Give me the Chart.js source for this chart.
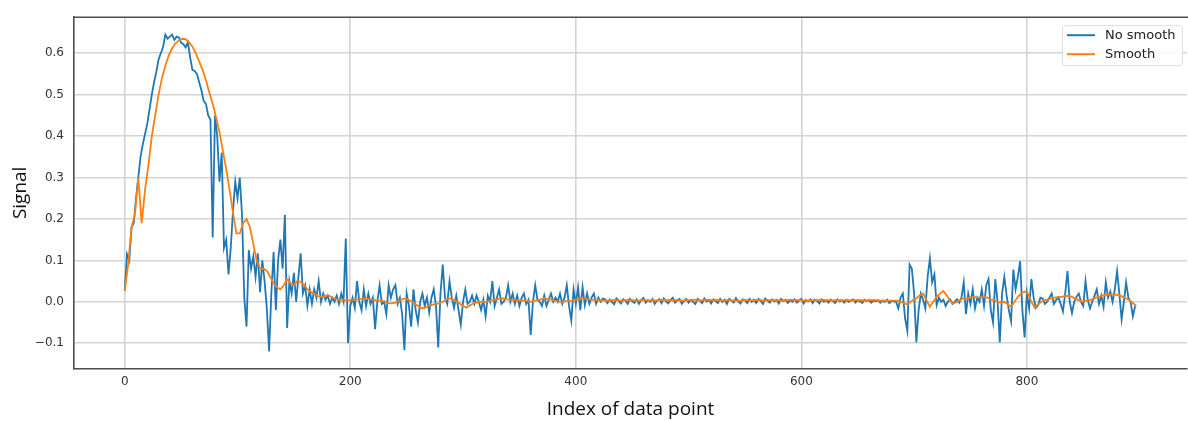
<!DOCTYPE html>
<html>
<head>
<meta charset="utf-8">
<script src="https://cdn.jsdelivr.net/npm/chart.js@4.4.1/dist/chart.umd.min.js"></script>
<style>
  html, body { margin: 0; padding: 0; background: #fff; }
  #wrap { width: 1188px; height: 421px; }
</style>
</head>
<body>
<div id="wrap"><canvas id="signalChart" width="1188" height="421"></canvas></div>
<script>
// raw signal, one sample every 2 indices (0 .. 896)
const RAW_STEP = 2;
const noSmooth = [
  // rise and main peak
  0.027, 0.115, 0.10, 0.18, 0.19, 0.25, 0.30, 0.35, 0.38, 0.405,
  0.43, 0.465, 0.50, 0.53, 0.555, 0.585, 0.60, 0.615, 0.645, 0.635,
  0.64, 0.645, 0.632, 0.64, 0.638, 0.625, 0.622, 0.614, 0.626, 0.59,
  0.56, 0.557, 0.55, 0.53, 0.51, 0.485, 0.478, 0.45,
  // break-up of the peak
  0.44, 0.155, 0.45, 0.40, 0.29, 0.36, 0.13, 0.15, 0.066, 0.13,
  0.22, 0.29, 0.25, 0.30, 0.21, 0.01, -0.06, 0.125, 0.08, 0.11,
  0.06, 0.117, 0.023, 0.1, 0.05, -0.016, -0.12, 0.02,
  0.12, -0.02, 0.1, 0.15, 0.08, 0.21, -0.063, 0.05, 0.02, 0.07,
  0.0, 0.06, 0.117, 0.02, 0.04, -0.01, 0.03, -0.005, 0.03, 0.01,
  0.05, 0.0, 0.02, 0.005, 0.015, -0.005, 0.01, 0.0, 0.015, -0.005,
  0.02, 0.0, 0.153, -0.10, -0.01,
  // noisy baseline 202 .. 424
  0.01, -0.015, 0.05, 0.0, -0.02, 0.03, -0.01, 0.02, -0.005, 0.01,
  -0.066, 0.0, 0.04, -0.005, 0.0, -0.03, 0.04, 0.01, 0.03, 0.04,
  -0.005, 0.01, -0.03, -0.117, 0.02, -0.01, -0.06, 0.03, -0.02, -0.05,
  0.0, 0.02, -0.01, 0.01, -0.026, 0.01, 0.03, -0.01, -0.11, 0.02,
  0.09, 0.01, -0.005, 0.05, 0.01, -0.015, 0.015, -0.02, -0.055, 0.0,
  0.03, -0.005, 0.0, 0.015, -0.005, 0.015, 0.0, -0.02, 0.005, -0.035,
  0.015, 0.0, 0.05, -0.01, 0.01, 0.03, -0.005, 0.0, 0.01, 0.04,
  0.0, 0.02, -0.005, 0.015, -0.01, 0.01, 0.02, -0.005, 0.005, -0.08,
  0.0, 0.04, 0.005, 0.0, -0.01, 0.015, -0.01, 0.005, 0.02, 0.0,
  0.01, 0.0, 0.02, -0.005, 0.01, 0.04, -0.01, -0.045, 0.03, -0.005,
  0.035, -0.02, 0.035, -0.008, 0.02, -0.005, 0.01, 0.02, -0.005, 0.01,
  0.0, 0.008,
  // quiet stretch 426 .. 684
  0.006, -0.003, 0.005, 0.0, -0.006, 0.008, 0.002, -0.004, 0.006, 0.003,
  -0.005, 0.007, 0.001, -0.003, 0.006, -0.005, 0.004, 0.009, -0.002, 0.004,
  0.0, 0.007, -0.005, 0.003, 0.006, -0.003, 0.008, 0.001, -0.004, 0.005,
  0.01, -0.002, 0.004, 0.007, -0.005, 0.002, 0.007, -0.002, 0.005, 0.0,
  -0.005, 0.007, 0.003, -0.003, 0.008, 0.001, 0.005, -0.004, 0.006, 0.002,
  -0.003, 0.007, 0.0, 0.005, -0.005, 0.007, 0.003, -0.002, 0.009, 0.001,
  -0.004, 0.006, 0.004, -0.003, 0.007, 0.0, 0.005, -0.003, 0.007, 0.002,
  -0.005, 0.008, 0.003, -0.002, 0.006, 0.001, 0.005, -0.004, 0.007, 0.002,
  0.005, -0.003, 0.004, 0.0, 0.006, -0.002, 0.003, 0.007, -0.004, 0.004,
  0.001, 0.006, -0.003, 0.005, 0.002, -0.004, 0.006, 0.0, 0.004, -0.002,
  0.005, 0.002, -0.003, 0.006, 0.001, 0.004, -0.002, 0.005, 0.0, 0.003,
  0.006, -0.002, 0.004, 0.001, -0.003, 0.005, 0.002, 0.004, -0.002, 0.003,
  0.001, 0.004, -0.002, 0.003, 0.0, 0.005, -0.003, 0.002, 0.001, 0.0,
  // noisy tail 686 .. 896
  -0.016, 0.01, 0.02, -0.04, -0.07, 0.09, 0.08, 0.02, -0.098, -0.02,
  0.02, 0.005, -0.016, 0.06, 0.105, 0.047, 0.066, -0.008, 0.01, 0.0,
  0.005, -0.01, 0.0, 0.006, -0.005, 0.0, 0.006, -0.002, 0.01, 0.047,
  -0.03, 0.02, -0.005, 0.03, -0.016, 0.01, 0.0, 0.03, -0.01, 0.04,
  0.055, -0.02, -0.05, 0.055, 0.0, -0.098, 0.02, 0.06, 0.016, -0.02,
  -0.047, 0.078, 0.03, 0.06, 0.098, -0.02, -0.086, 0.02, -0.016, 0.055,
  0.01, -0.015, -0.008, 0.01, 0.008, -0.005, 0.0, 0.01, 0.02, -0.005,
  0.005, 0.01, -0.005, -0.023, 0.02, 0.074, 0.0, -0.027, 0.0, 0.012,
  0.02, 0.0, -0.01, 0.05, 0.005, -0.016, 0.0, 0.015, 0.03, -0.005,
  0.015, -0.012, 0.047, 0.01, 0.025, 0.0, 0.03, 0.074, 0.02, -0.043,
  0.0, 0.047, 0.01, 0.0, -0.035, -0.01
];

// smoothed signal, one sample every 3 indices (0 .. 897)
const SMOOTH_STEP = 3;
const smooth = [
  0.027, 0.09, 0.18, 0.21, 0.30, 0.19, 0.27, 0.33, 0.40, 0.45,
  0.50, 0.54, 0.57, 0.595, 0.612, 0.624, 0.631, 0.635, 0.634, 0.627,
  0.616, 0.60, 0.58, 0.56, 0.535, 0.505, 0.478, 0.445, 0.41, 0.365,
  0.32, 0.27, 0.215, 0.165, 0.165, 0.19, 0.20, 0.18, 0.14, 0.10,
  0.08, 0.08, 0.075, 0.06, 0.045, 0.035, 0.03, 0.04, 0.055, 0.045,
  0.04, 0.05, 0.048, 0.04, 0.03, 0.024, 0.02, 0.014, 0.012, 0.014,
  0.016, 0.012, 0.008, 0.005, 0.004, 0.004, 0.003, 0.004, 0.005, 0.006,
  0.007, 0.008, 0.007, 0.005, 0.004, 0.003, 0.002, 0.0, -0.003, -0.004,
  -0.002, 0.002, 0.006, 0.008, 0.004, 0.0, -0.006, -0.012, -0.016, -0.013,
  -0.009, -0.007, -0.005, -0.004, 0.0, 0.005, 0.008, 0.006, 0.002, -0.004,
  -0.01, -0.014, -0.009, -0.004, -0.002, 0.0, 0.0, 0.0, 0.002, 0.004,
  0.006, 0.008, 0.008, 0.006, 0.005, 0.004, 0.004, 0.003, 0.003, 0.002,
  0.0, 0.002, 0.004, 0.006, 0.008, 0.007, 0.005, 0.003, 0.001, 0.0,
  0.001, 0.002, 0.002, 0.004, 0.006, 0.008, 0.008, 0.006, 0.005, 0.004,
  0.004, 0.003,
  0.003, 0.003, 0.004, 0.004, 0.003, 0.003, 0.004, 0.005, 0.004, 0.003,
  0.003, 0.004, 0.004, 0.003, 0.004, 0.003, 0.004, 0.005, 0.004, 0.004,
  0.003, 0.004, 0.003, 0.003, 0.004, 0.004, 0.005, 0.004, 0.003, 0.004,
  0.005, 0.004, 0.004, 0.005, 0.003, 0.003, 0.004, 0.004, 0.003, 0.003,
  0.003, 0.004, 0.004, 0.003, 0.004, 0.004, 0.004, 0.003, 0.004, 0.004,
  0.004, 0.004, 0.003, 0.003, 0.004, 0.005, 0.004, 0.004, 0.004, 0.003,
  0.003, 0.004, 0.004, 0.004, 0.005, 0.004, 0.004, 0.003, 0.004, 0.004,
  0.003, 0.004, 0.004, 0.003, 0.004, 0.004, 0.004, 0.003, 0.004, 0.004,
  0.004, 0.003, 0.003, 0.003, 0.003, 0.003,
  0.003, 0.001, -0.002, -0.006, -0.002, 0.004, 0.008, 0.016, 0.02, 0.004,
  -0.012, 0.0, 0.012, 0.02, 0.026, 0.015, 0.002, -0.004, 0.0, 0.005,
  0.008, 0.008, 0.01, 0.012, 0.01, 0.01, 0.012, 0.01, 0.006, 0.004,
  0.0, -0.002, 0.0, -0.006, -0.012, 0.0, 0.012, 0.02, 0.025, 0.02,
  0.0, -0.014, -0.006, 0.0, 0.004, 0.006, 0.008, 0.01, 0.012, 0.012,
  0.014, 0.014, 0.012, 0.008, 0.004, 0.0, 0.002, 0.004, 0.006, 0.01,
  0.012, 0.015, 0.017, 0.018, 0.018, 0.017, 0.016, 0.012, 0.008, 0.004,
  -0.003, -0.01
];

const xTicks = [0, 200, 400, 600, 800];
const yTicks = [-0.1, 0.0, 0.1, 0.2, 0.3, 0.4, 0.5, 0.6];
const seriesNames = ["No smooth", "Smooth"];
const seriesColors = ["#1f77b4", "#ff7f0e"];

const gridColor = "#d4d4d4";
const spineColor = "#4d4d4d";
const tickColor = "#333";

const toPoints = (values, step) => values.map((y, k) => ({ x: k * step, y }));

// top spine + legend box in the upper right corner
const framePlugin = {
  id: "frame",
  afterDraw(chart) {
    const { ctx, chartArea: a } = chart;
    ctx.save();
    ctx.strokeStyle = spineColor;
    ctx.lineWidth = 1.6;
    ctx.beginPath();
    ctx.moveTo(a.left, a.top);
    ctx.lineTo(a.right + 1, a.top);
    ctx.stroke();

    const w = 120, h = 40;
    const x = a.right - w - 5, y = a.top + 8;
    ctx.fillStyle = "rgba(255,255,255,0.85)";
    ctx.strokeStyle = "#dcdcdc";
    ctx.lineWidth = 1;
    ctx.beginPath();
    ctx.roundRect(x + 0.5, y + 0.5, w, h, 3);
    ctx.fill();
    ctx.stroke();

    ctx.font = "13px 'DejaVu Sans'";
    ctx.textBaseline = "middle";
    seriesNames.forEach((name, i) => {
      const ly = y + 10 + i * 19;
      ctx.strokeStyle = seriesColors[i];
      ctx.lineWidth = 2;
      ctx.beginPath();
      ctx.moveTo(x + 5, ly);
      ctx.lineTo(x + 33, ly);
      ctx.stroke();
      ctx.fillStyle = "#222";
      ctx.fillText(name, x + 43, ly);
    });
    ctx.restore();
  }
};

new Chart(document.getElementById("signalChart"), {
  type: "line",
  data: {
    datasets: [
      {
        label: seriesNames[0],
        data: toPoints(noSmooth, RAW_STEP),
        borderColor: seriesColors[0],
        order: 1
      },
      {
        label: seriesNames[1],
        data: toPoints(smooth, SMOOTH_STEP),
        borderColor: seriesColors[1],
        order: 0
      }
    ]
  },
  options: {
    responsive: false,
    animation: false,
    layout: { padding: { top: 7, right: 1, left: 0, bottom: 0 } },
    elements: {
      point: { radius: 0 },
      line: { borderWidth: 1.8, tension: 0, fill: false }
    },
    plugins: {
      legend: { display: false },
      tooltip: { enabled: false }
    },
    scales: {
      x: {
        type: "linear",
        min: -45,
        max: 942,
        afterBuildTicks: (axis) => { axis.ticks = xTicks.map((v) => ({ value: v })); },
        afterFit: (axis) => { axis.height = 52.5; },
        grid: { color: gridColor, lineWidth: 1.6, drawTicks: false },
        border: { display: true, color: spineColor, width: 1.6 },
        ticks: {
          padding: 6,
          color: tickColor,
          font: { family: "DejaVu Sans", size: 12 },
          callback: (v) => String(v)
        },
        title: {
          display: true,
          text: "Index of data point",
          color: "#111",
          font: { family: "Open Sans", size: 19 },
          padding: { top: 0, bottom: 0 }
        }
      },
      y: {
        min: -0.161,
        max: 0.687,
        afterBuildTicks: (axis) => { axis.ticks = yTicks.map((v) => ({ value: v })); },
        afterFit: (axis) => { axis.width = 74; },
        grid: { color: gridColor, lineWidth: 1.6, drawTicks: false },
        border: { display: true, color: spineColor, width: 1.6 },
        ticks: {
          padding: 10,
          color: tickColor,
          font: { family: "DejaVu Sans", size: 12 },
          callback: (v) => (v < 0 ? "\u2212" : "") + Math.abs(v).toFixed(1)
        },
        title: {
          display: true,
          text: "Signal",
          color: "#111",
          font: { family: "Open Sans", size: 19 },
          padding: { top: 9, bottom: 0 }
        }
      }
    }
  },
  plugins: [framePlugin]
});
</script>
</body>
</html>
